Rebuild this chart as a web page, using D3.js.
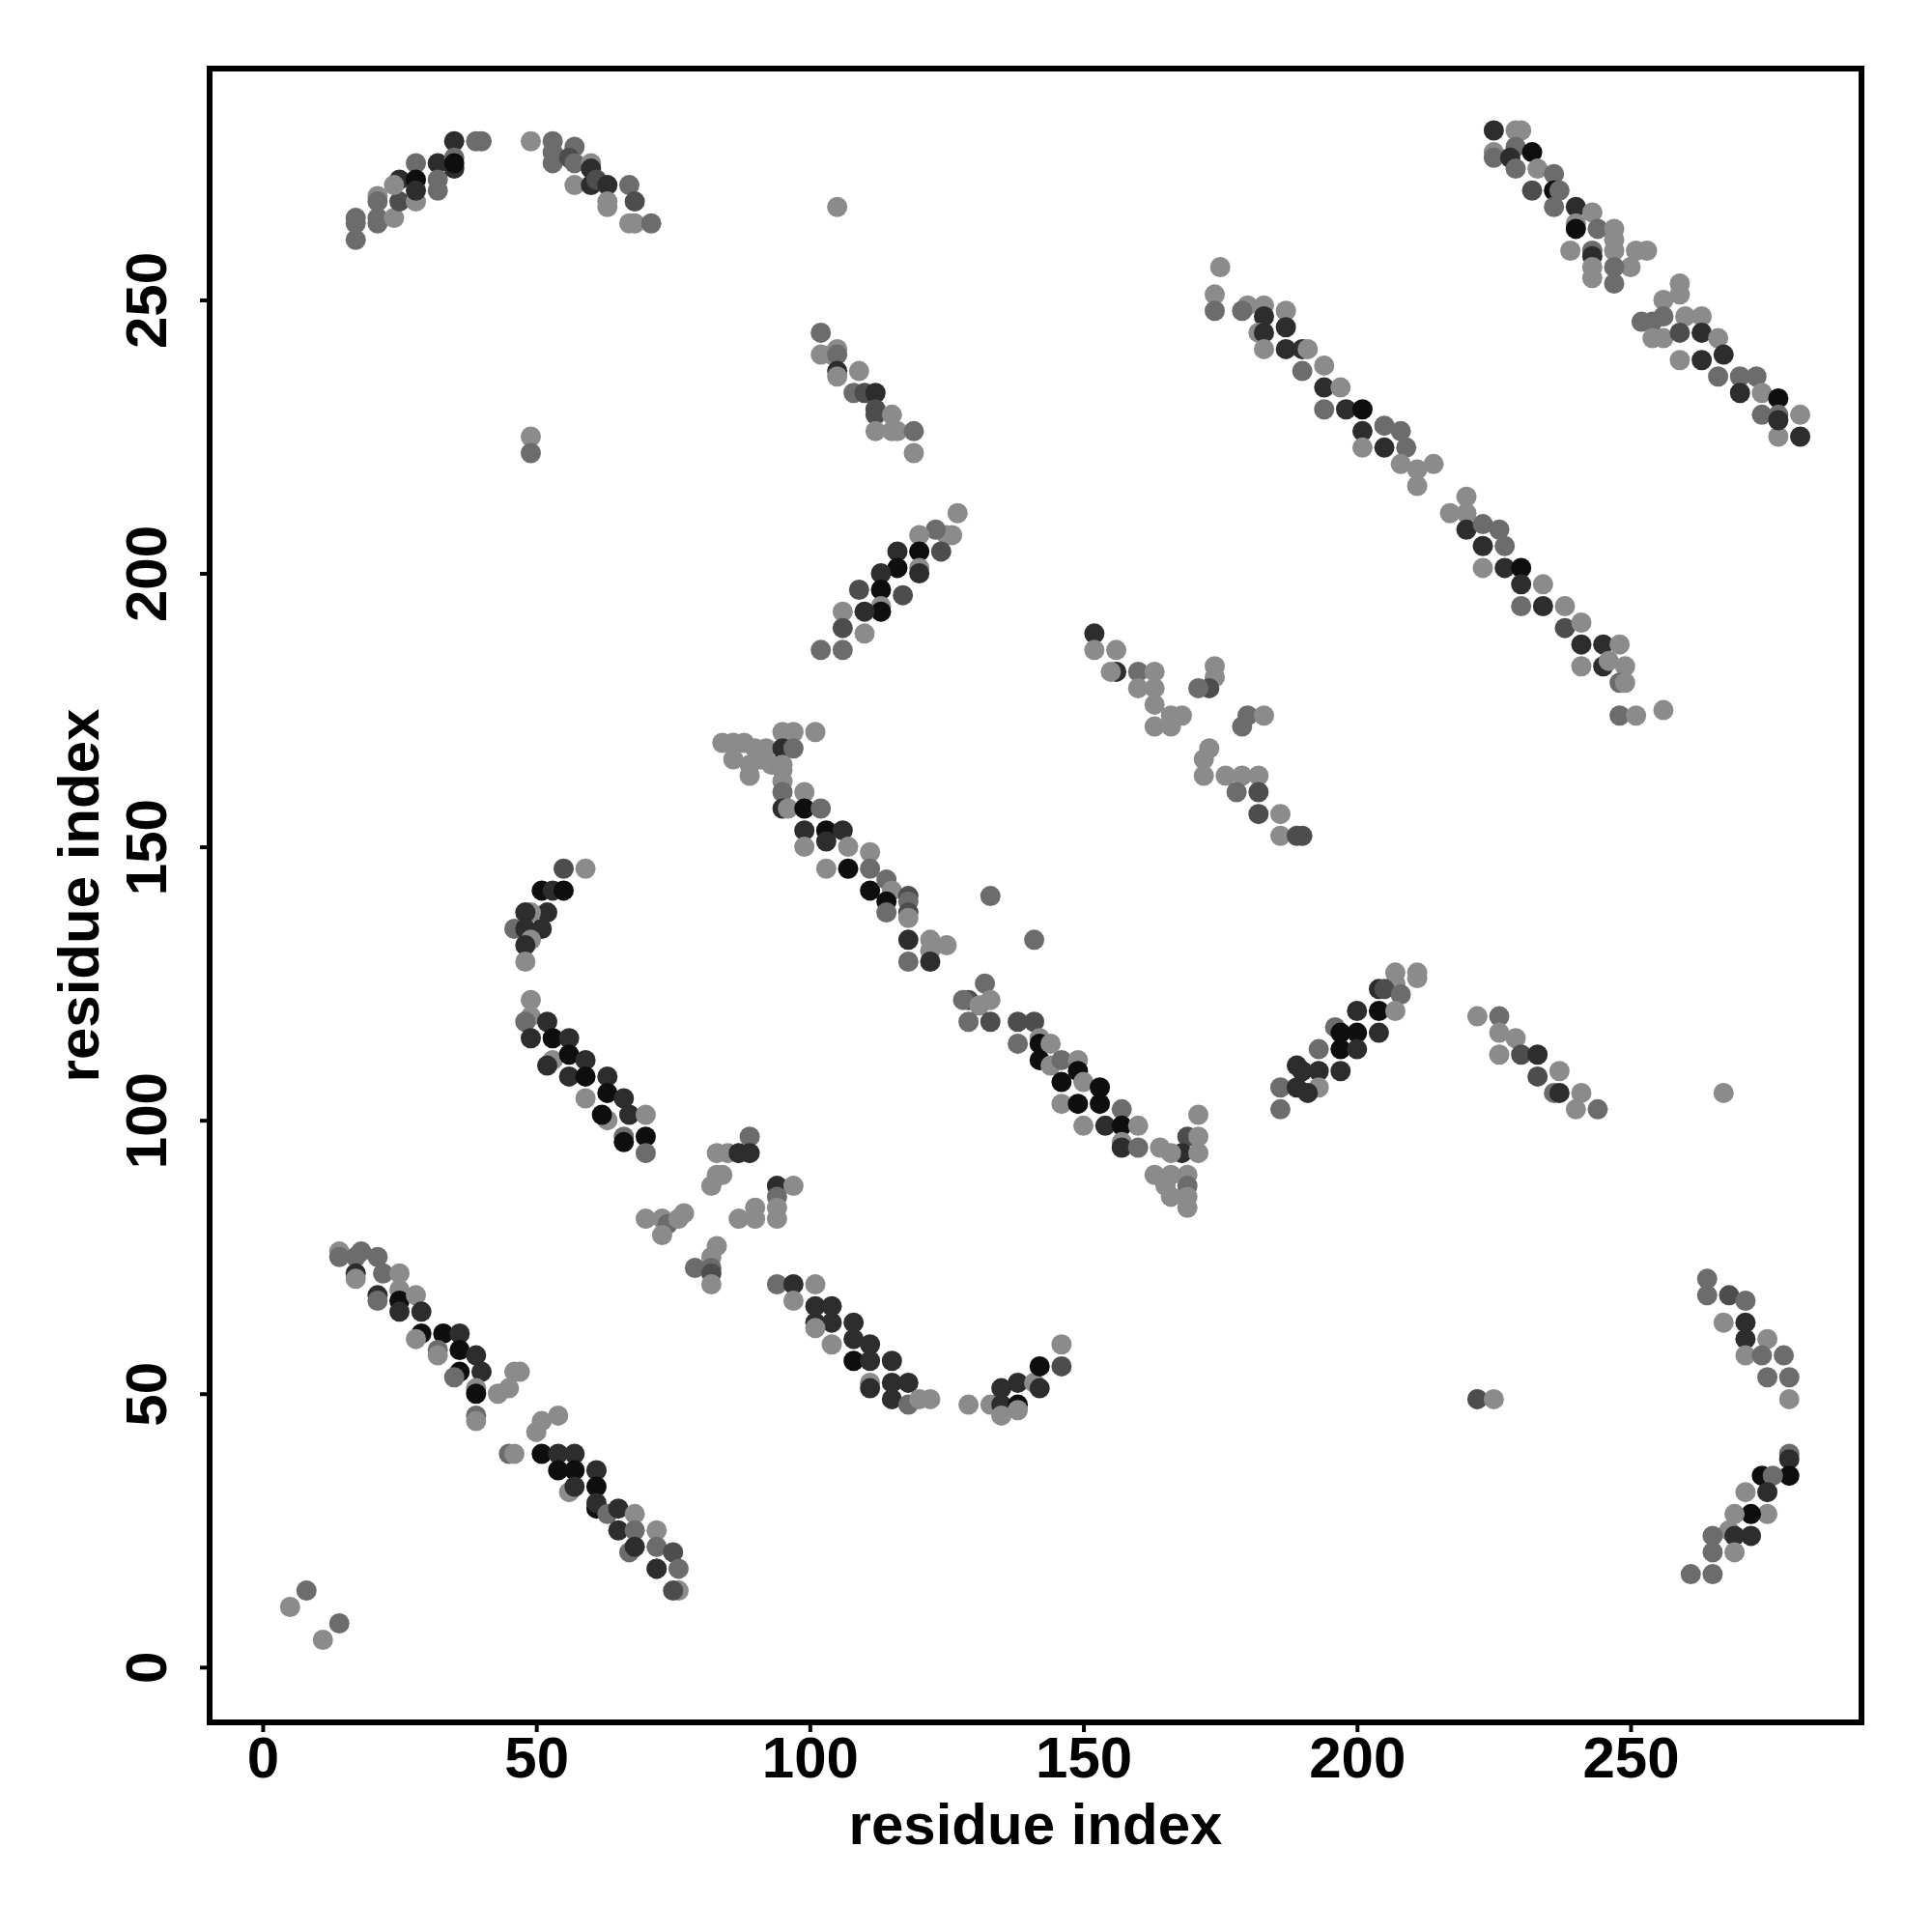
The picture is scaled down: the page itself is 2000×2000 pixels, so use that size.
<!DOCTYPE html>
<html><head><meta charset="utf-8">
<script src="https://cdn.jsdelivr.net/npm/d3@7"></script>
<style>html,body{margin:0;padding:0;background:#fff;}</style>
</head><body>
<svg id="chart" width="2000" height="2000"></svg>
<script>
// Each entry: [residue i, residue j, contact strength 1 (weak, light) .. 5 (strong, dark)]
const arcTopLeft = [[17,261,2],[17,264,2],[17,265,2],[21,265,2],[21,264,2],[21,269,1],[21,268,2],[24,265,1],[25,268,3],[25,272,4],[24,271,1],[28,275,2],[28,272,5],[28,268,1],[28,270,4],[32,275,4],[32,272,2],[32,270,2],[35,279,4],[35,276,2],[35,274,4],[35,275,5],[39,279,2],[40,279,2]];
const arcTopMid = [[49,279,1],[53,279,2],[53,277,2],[53,275,2],[57,278,2],[56,276,3],[57,275,2],[57,271,1],[60,275,1],[60,274,4],[60,271,4],[61,272,3],[63,271,4],[63,268,1],[63,267,1],[67,271,2],[68,268,3],[67,264,1],[68,264,1],[71,264,2],[49,225,1],[49,222,2]];
const clusterUpper = [[105,267,1],[102,244,2],[102,240,1],[104,240,1],[105,241,1],[105,240,2],[105,237,4],[105,236,1],[109,237,1],[108,233,2],[110,233,3],[112,233,4],[112,230,3],[112,229,3],[115,229,1],[112,226,1],[115,226,1],[116,226,1],[119,226,2],[119,222,1]];
const bandUpperDiag = [[175,256,1],[174,251,1],[174,248,2],[180,249,1],[179,248,2],[183,249,1],[187,248,1],[183,247,4],[182,244,1],[183,244,4],[187,245,4],[183,241,1],[187,241,4],[190,241,4],[190,237,2],[191,241,1],[194,238,1],[194,234,4],[197,234,1],[194,230,2],[198,230,4],[201,230,5],[201,226,4],[201,223,1],[205,227,2],[208,226,2],[205,223,4],[209,223,2],[208,220,1],[211,219,1],[214,220,1],[211,216,1],
  [220,214,1],[217,211,1],[220,211,1],[220,208,4],[223,209,2],[226,208,2],[223,205,4],[227,205,2],[223,201,1],[227,201,4],[230,201,5],[230,198,4],[234,198,1],[230,194,2],[234,194,4],[238,194,1],[238,190,3],[241,191,1],[241,187,4],[245,187,4],[248,187,1],[241,183,1],[245,183,4],[246,184,1],[249,183,1],[248,180,2],[249,180,1],[248,174,2],[251,174,1],[256,175,1]];
const bandTopRight = [[225,281,4],[229,281,1],[230,281,1],[225,277,1],[225,276,2],[229,278,2],[228,276,4],[232,277,5],[229,274,2],[233,274,1],[236,273,2],[232,270,3],[236,270,5],[237,270,2],[236,267,2],[240,267,4],[243,266,1],[240,264,1],[240,263,5],[244,263,2],[247,263,1],[239,259,1],[243,259,2],[243,258,4],[247,259,1],[247,261,1],[251,259,1],[253,259,1],[250,256,1],[243,256,1],[243,254,1],[247,256,2],[247,253,2],[259,253,1],[259,251,1],[256,250,1],[252,246,2],[254,246,2],[256,247,2],[260,247,1],[263,247,1],[254,243,1],[256,243,1],[259,244,3],[263,244,4],[266,243,1],[259,239,1],[263,239,4],[267,240,4],[266,236,2],[270,236,2],[270,233,4],[273,236,2],[274,233,1],[274,229,2],[277,232,5],[277,229,2],[281,229,1],[277,225,1],[281,225,4],[277,228,4]];
const bandRising = [[127,211,1],[126,207,1],[125,207,1],[123,208,2],[124,204,3],[120,207,1],[120,204,5],[120,201,1],[120,200,4],[116,204,4],[116,201,5],[117,196,3],[113,200,4],[113,197,5],[113,194,1],[113,193,5],[109,197,3],[110,193,4],[106,193,1],[106,190,3],[110,189,1],[102,186,2],[106,186,2]];
const clusterMid = [[152,189,4],[152,186,1],[156,186,1],[156,182,4],[155,182,1],[160,182,2],[163,182,1],[160,179,1],[163,179,1],[163,176,1],[166,174,1],[168,174,1],[163,172,1],[166,172,1],[174,183,1],[174,181,1],[173,179,3],[171,179,2],[180,174,2],[183,174,1],[179,172,2],[173,168,1],[172,166,1],[172,163,1],[176,163,1],[179,163,1],[182,163,1],[178,160,2],[182,160,3],[182,156,3],[186,156,1],[186,152,1],[189,152,3],[190,152,3]];
const bandCentral = [[84,169,1],[86,169,1],[88,169,1],[90,168,1],[92,168,1],[86,166,1],[89,165,1],[91,166,1],[93,165,1],[95,164,1],[89,163,1],
  [95,171,1],[97,171,1],[101,171,1],[95,168,4],[97,168,2],[95,165,1],[95,162,1],[95,160,2],[99,160,1],[95,157,4],[96,157,1],[99,157,5],[102,157,2],[99,153,4],[103,153,5],[106,153,4],[99,150,1],[103,151,4],[107,150,1],[103,146,1],[107,146,5],[111,149,1],[111,146,2],[111,142,5],[114,144,2],[115,142,1],[118,141,3],[133,141,2],
  [114,140,5],[118,140,2],[114,138,2],[118,138,3],[118,137,1],[118,133,4],[122,133,1],[125,132,1],[118,129,2],[122,131,1],[122,129,4],[141,133,2],[132,125,2],[133,122,1],[129,122,3],[128,122,2],[131,121,1],[129,118,2],[133,118,3],[138,118,3],[141,118,3],[138,114,2],[142,115,1],[142,114,5],[144,114,1],[142,111,5],[144,110,1],[146,111,2],[149,111,1],[149,109,5],[146,107,5],[150,107,1],[153,106,5],[146,103,1],[149,103,5],[153,103,5],[157,102,2],[150,99,1],[154,99,4],[157,99,5],[160,99,1],[157,96,1],[157,95,4],[160,95,2],[164,95,1],[171,101,1],[169,97,3],[171,97,1],[168,94,4],[171,94,1],[166,94,1],[163,90,1],[166,90,1],[169,90,1],[165,88,1],[169,88,2],[166,86,1],[169,86,1],[169,84,1]];
const bandRisingLow = [[186,106,2],[186,102,2],[189,110,4],[189,106,4],[207,127,1],[207,125,1],[211,127,1],[211,126,1],[204,124,4],[205,124,3],[208,123,2],[200,120,4],[204,120,5],[207,120,1],[196,117,2],[197,116,5],[200,116,5],[204,116,4],[193,113,2],[197,113,5],[200,113,4],[190,109,4],[193,109,4],[197,109,4],[193,106,1],[191,105,4]];
const clusterRight = [[222,119,1],[226,119,2],[226,116,1],[229,115,1],[226,112,1],[230,112,3],[233,112,4],[233,108,3],[237,109,1],[236,105,2],[237,105,4],[241,105,1],[240,102,1],[244,102,2],[267,105,1]];
const arcBottomRight = [[264,71,2],[264,68,2],[268,68,3],[271,67,2],[267,63,1],[271,63,4],[271,60,4],[275,60,1],[271,57,1],[274,57,2],[278,57,2],[275,53,2],[279,53,2],[279,49,1],[222,49,3],[225,49,1],
  [279,39,2],[279,38,4],[279,35,5],[274,35,5],[276,35,2],[275,32,4],[271,32,1],[275,28,1],[272,28,5],[269,28,1],[268,25,1],[272,24,4],[269,24,4],[265,24,2],[269,21,1],[265,21,2],[265,17,2],[261,17,2]];
const clusterLeft = [[55,146,3],[59,146,1],[51,142,5],[53,142,4],[55,142,5],[52,138,4],[49,138,1],[48,138,4],[46,135,2],[48,135,4],[51,135,4],[49,133,1],[48,132,4],[48,129,1],
  [49,122,1],[49,119,1],[48,118,2],[52,118,4],[49,115,4],[53,115,5],[56,115,4],[53,111,1],[52,110,4],[56,112,5],[59,111,4],[56,108,4],[59,108,5],[63,108,4],[59,104,1],[63,105,5],[66,104,4],[63,100,1],[62,101,5],[67,101,4],[70,101,1],[66,97,2],[66,96,5],[70,97,5],[70,94,2]];
const clusterLight = [[83,94,1],[85,94,1],[87,94,4],[89,97,2],[89,94,4],[83,90,1],[84,90,1],[82,88,1],[70,82,1],[73,82,1],[74,81,2],[73,79,1],[77,83,1],[76,82,1],[83,77,1],[82,75,1],[79,73,2],[82,73,2],[82,72,3],[82,70,1],[87,82,1],[94,88,4],[97,88,1],[94,86,2],[94,84,1],[94,82,1],[90,84,1],[90,82,1]];
const bandLowMid = [[94,70,2],[97,70,4],[101,70,1],[97,67,1],[101,66,4],[104,66,4],[101,63,4],[104,63,4],[108,63,4],[101,62,1],[104,59,1],[108,60,4],[111,59,4],[108,56,5],[111,56,4],[115,56,4],[111,52,1],[111,51,4],[115,52,4],[118,52,4],[115,49,4],[118,48,2],[120,49,1],[122,49,1],
  [129,48,1],[133,48,1],[135,48,4],[135,46,1],[138,48,5],[138,47,1],[135,51,4],[138,52,4],[141,52,1],[142,51,4],[142,55,5],[146,55,3],[146,59,1]];
const bandBottomLeft = [[14,76,1],[14,75,2],[18,76,2],[17,75,2],[21,75,2],[17,72,4],[17,71,1],[22,72,2],[25,72,1],[21,68,4],[21,67,2],[25,69,1],[25,67,5],[28,68,1],[29,65,4],[25,65,4],
  [29,61,5],[28,60,1],[33,61,5],[36,61,4],[32,58,2],[32,57,1],[36,58,5],[39,57,4],[36,54,5],[35,53,2],[40,54,4],[39,51,1],[39,50,5],[43,50,1],[45,51,1],[46,54,1],[47,54,1],[39,46,2],[39,45,1],[45,39,2],[46,39,1],[51,45,1],[50,43,1],[54,46,1],[51,39,5],[54,39,4],[57,39,4],[54,36,5],[57,36,5],[61,36,4],[56,32,1],[57,33,4],[61,33,5],[61,29,5],[61,30,4],[63,28,2],[65,29,4],[68,28,1],[65,25,4],[68,25,2],[72,25,1],[67,21,2],[68,22,4],[72,22,2],[75,21,3],[72,18,1],[72,18,4],[76,18,2],[76,14,1],[75,14,3],
  [5,11,1],[8,14,2],[11,5,1],[14,8,2]];

const tickValues = [0, 50, 100, 150, 200, 250];
const xLabel = "residue index";
const yLabel = "residue index";

const points = [].concat(arcTopLeft, arcTopMid, clusterUpper, bandUpperDiag, bandTopRight, bandRising,
  clusterMid, bandCentral, bandRisingLow, clusterRight, arcBottomRight, clusterLeft, clusterLight,
  bandLowMid, bandBottomLeft);

const L = 217, R = 1927, T = 71, B = 1783;
const svg = d3.select("#chart");
svg.append("rect").attr("width", 2000).attr("height", 2000).attr("fill", "#fff");

const x = d3.scaleLinear().domain([-9.7, 292.2]).range([L, R]);
const y = d3.scaleLinear().domain([-10.1, 292.3]).range([B, T]);
const shade = d3.scaleLinear().domain([1, 5]).range(["#8b8b8b", "#0e0e0e"]);

svg.append("g").selectAll("circle").data(points).join("circle")
  .attr("cx", d => x(d[0])).attr("cy", d => y(d[1])).attr("r", 10.5)
  .attr("fill", d => shade(d[2]));

const font = "'Liberation Sans', Arial, Helvetica, sans-serif";

const gx = svg.append("g").attr("transform", `translate(0,${B})`)
  .call(d3.axisBottom(x).tickValues(tickValues).tickSize(10).tickFormat(d3.format("d")));
gx.select(".domain").remove();
gx.selectAll(".tick line").attr("stroke", "#000").attr("stroke-width", 4);
gx.selectAll(".tick text").attr("y", 57).attr("dy", null)
  .attr("font-family", font).attr("font-weight", "bold").attr("font-size", 60).attr("fill", "#000");

const gy = svg.append("g").attr("transform", `translate(${L},0)`)
  .call(d3.axisLeft(y).tickValues(tickValues).tickSize(10).tickFormat(d3.format("d")));
gy.select(".domain").remove();
gy.selectAll(".tick line").attr("stroke", "#000").attr("stroke-width", 4);
gy.selectAll(".tick text").attr("transform", "rotate(-90)").attr("x", 0).attr("y", -45).attr("dy", null)
  .attr("text-anchor", "middle")
  .attr("font-family", font).attr("font-weight", "bold").attr("font-size", 60).attr("fill", "#000");

svg.append("rect").attr("x", L).attr("y", T).attr("width", R - L).attr("height", B - T)
  .attr("fill", "none").attr("stroke", "#000").attr("stroke-width", 6);

svg.append("text").attr("x", (L + R) / 2).attr("y", 1909).attr("text-anchor", "middle")
  .attr("font-family", font).attr("font-weight", "bold").attr("font-size", 60).text(xLabel);
svg.append("text").attr("transform", `translate(102,${(T + B) / 2}) rotate(-90)`).attr("text-anchor", "middle")
  .attr("font-family", font).attr("font-weight", "bold").attr("font-size", 60).text(yLabel);
</script>
</body></html>
